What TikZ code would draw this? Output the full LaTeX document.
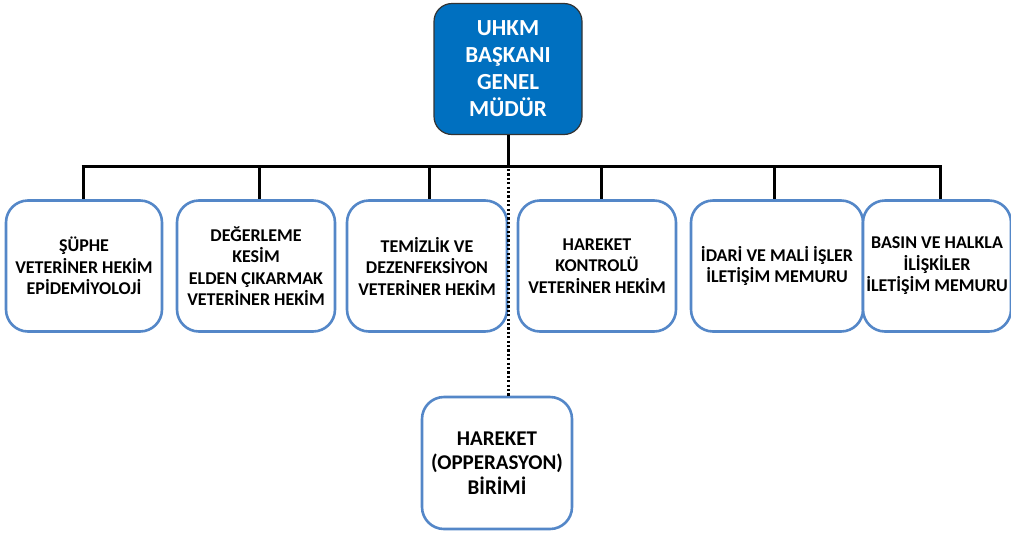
\documentclass[tikz,border=0pt]{standalone}
\usepackage{fontspec}
\setmainfont{Carlito}
\definecolor{topblue}{RGB}{0,112,192}
\definecolor{boxedge}{RGB}{84,135,200}
\begin{document}
\begin{tikzpicture}[x=1pt,y=-1pt,
  unitbox/.style={draw=boxedge, line width=2.6pt, rounded corners=22pt, fill=white,
    align=center, font=\fontsize{18}{21.5}\selectfont\bfseries, inner sep=0pt},
  topbox/.style={draw=black!80, line width=1.2pt, rounded corners=18pt, fill=topblue,
    text=white, align=center, font=\fontsize{23}{27}\selectfont\bfseries, inner sep=0pt,
    minimum width=148pt, minimum height=131pt},
  conn/.style={line width=3pt, black},
  dotconn/.style={line width=3pt, black, dash pattern=on 2.2pt off 2.2pt}]
\useasboundingbox (0,0) rectangle (1011,536);
\node[topbox] (top) at (508,69) {UHKM\\BAŞKANI\\GENEL\\MÜDÜR};
\node[unitbox, minimum width=156pt, minimum height=131pt] (b1) at (84,266) {ŞÜPHE\\VETERİNER HEKİM\\EPİDEMİYOLOJİ};
\node[unitbox, minimum width=158pt, minimum height=131pt] (b2) at (256,266) {DEĞERLEME\\KESİM\\ELDEN ÇIKARMAK\\VETERİNER HEKİM};
\node[unitbox, minimum width=160pt, minimum height=131pt] (b3) at (427,266) {TEMİZLİK VE\\DEZENFEKSİYON\\VETERİNER HEKİM};
\node[unitbox, minimum width=158pt, minimum height=131pt] (b4) at (597,266) {HAREKET\\KONTROLÜ\\VETERİNER HEKİM};
\node[unitbox, minimum width=172pt, minimum height=131pt] (b5) at (777,266) {İDARİ VE MALİ İŞLER\\İLETİŞİM MEMURU};
\node[unitbox, minimum width=148pt, minimum height=131pt] (b6) at (937,266) {BASIN VE HALKLA\\İLİŞKİLER\\İLETİŞİM MEMURU};
\node[unitbox, minimum width=150pt, minimum height=132pt, font=\fontsize{21}{24.5}\selectfont\bfseries] (hb) at (497,463) {HAREKET\\(OPPERASYON)\\BİRİMİ};
\coordinate (jt) at (508,166);
\coordinate (d1) at (83,166);
\coordinate (d2) at (259,166);
\coordinate (d3) at (429,166);
\coordinate (d4) at (601,166);
\coordinate (d5) at (774,166);
\coordinate (d6) at (940,166);
\draw[conn] (top.south) -- (jt);
\draw[conn] ([xshift=-1.5pt]d1) -- ([xshift=1.5pt]d6);
\foreach \i in {1,...,6} {\draw[conn] (d\i) -- (d\i |- b\i.north);}
\draw[dotconn] ([yshift=1.5pt]jt) -- (jt |- hb.north);
\end{tikzpicture}
\end{document}
